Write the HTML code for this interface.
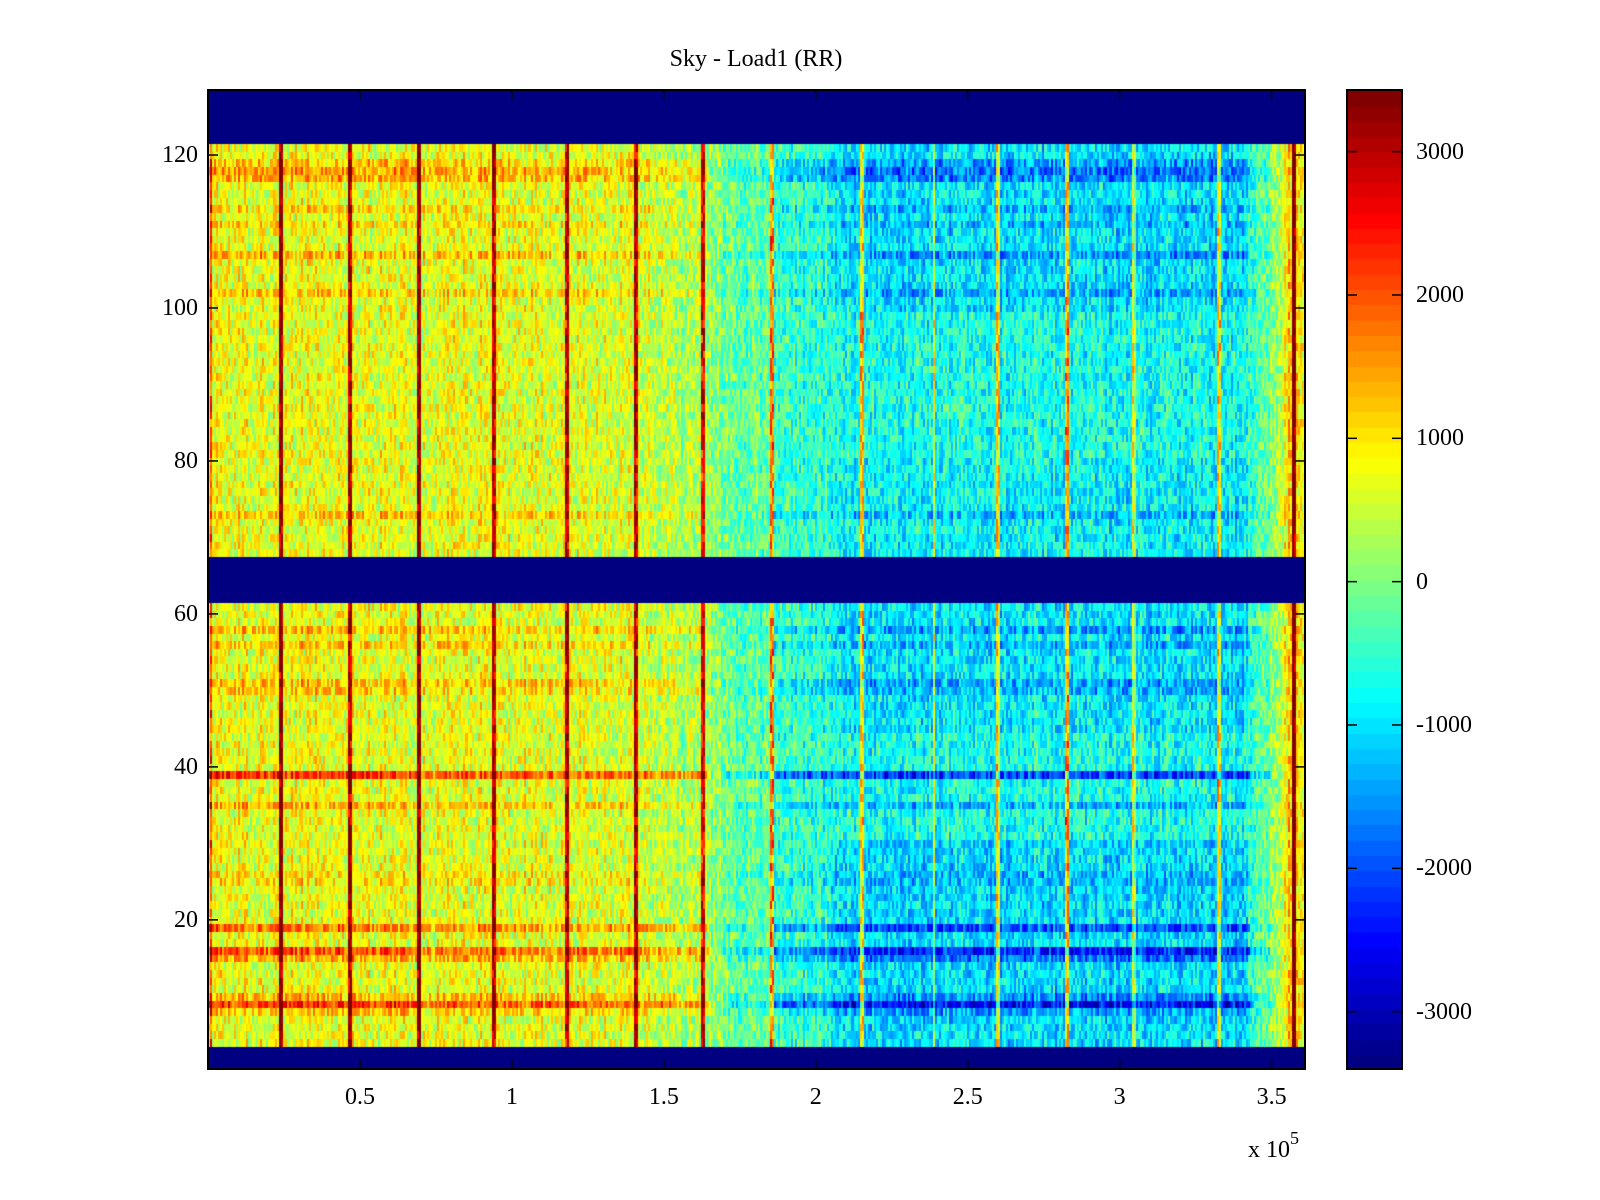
<!DOCTYPE html>
<html><head><meta charset="utf-8">
<style>
html,body{margin:0;padding:0;background:#fff;}
#root{position:relative;width:1600px;height:1200px;overflow:hidden;font-family:"Liberation Serif",serif;color:#000;}
.t{position:absolute;font-size:24px;line-height:1;white-space:nowrap;}
canvas{position:absolute;}
</style></head>
<body>
<div id="root">
<div class="t" style="left:0;width:1512px;top:47px;text-align:center;">Sky - Load1 (RR)</div>
<canvas id="hm" width="1097" height="979" style="left:208px;top:90px;"></canvas>
<canvas id="cb" width="55" height="979" style="left:1347px;top:90px;"></canvas>
<svg id="ov" width="1600" height="1200" style="position:absolute;left:0;top:0;"></svg>
<div class="t" style="left:1248px;top:1133px;">x 10<sup style="font-size:18px;position:relative;top:-4px;">5</sup></div>
</div>
<script>
// ---- data ----
const xMin = 0, xMax = 3.61, yMin = 0.5, yMax = 128.5;
const cMin = -3400, cMax = 3430;
const nCols = 540;
const blankRows = [1,2,3,62,63,64,65,66,67,122,123,124,125,126,127,128];
// base level along x (x in 1e5 units)
const baseX = [0, 1.40, 1.65, 1.85, 2.10, 3.40, 3.48, 3.54, 3.56, 3.59, 3.61];
const baseV = [750, 650, 150, -350, -650, -700, -250, 500, 1300, 900, 900];
// vertical hot stripes
const stripeX = [0.01, 0.243, 0.47, 0.693, 0.94, 1.185, 1.41, 1.63, 1.86, 2.15, 2.39, 2.60, 2.83, 3.05, 3.33, 3.575];
const stripeA = [1500, 2500, 2400, 2400, 2300, 2400, 2300, 2400, 2100, 1900, 1600, 1900, 2200, 1400, 1800, 2600];
// horizontal row effects (positive on left, negative on right)
const rowIdx = [8, 9, 10, 15, 16, 19, 35, 39, 73, 102, 107, 111, 113, 117, 118, 119, 56, 58, 51, 50, 26, 25];
const rowAmp = [450, 1500, 600, 700, 1300, 1000, 600, 1500, 450, 450, 600, 300, 350, 700, 800, 500, 400, 550, 500, 400, 250, 300];
// extra blueness on right in certain row ranges
const zoneRows = [[4, 30, -350], [100, 121, -300], [45, 61, -250], [68, 80, -150]];
const yTicks = [20, 40, 60, 80, 100, 120];
const xTicks = [0.5, 1, 1.5, 2, 2.5, 3, 3.5];
const xTickLabels = ["0.5", "1", "1.5", "2", "2.5", "3", "3.5"];
const cTicks = [3000, 2000, 1000, 0, -1000, -2000, -3000];

// ---- scales ----
const PL = 208, PT = 90, PW = 1097, PH = 979;
const xs = v => PL + (v - xMin) / (xMax - xMin) * PW;
const ys = v => PT + (yMax - v) / (yMax - yMin) * PH;
const cs = v => PT + (cMax - v) / (cMax - cMin) * PH;

function jet(t){
  t = Math.max(0, Math.min(1, t));
  t = Math.floor(t * 63.999) / 63;
  const f = x => Math.max(0, Math.min(1, x));
  const r = f(1.5 - Math.abs(4 * t - 3)), g = f(1.5 - Math.abs(4 * t - 2)), b = f(1.5 - Math.abs(4 * t - 1));
  return 'rgb(' + Math.round(r * 255) + ',' + Math.round(g * 255) + ',' + Math.round(b * 255) + ')';
}
function interp(x){
  for (let i = 1; i < baseX.length; i++) if (x <= baseX[i]) {
    const t = (x - baseX[i - 1]) / (baseX[i] - baseX[i - 1]);
    return baseV[i - 1] + t * (baseV[i] - baseV[i - 1]);
  }
  return baseV[baseV.length - 1];
}
function hash(a, b){ let h = (a * 374761393 + b * 668265263) | 0; h = (h ^ (h >>> 13)) * 1274126177 | 0; return ((h ^ (h >>> 16)) >>> 0) / 4294967296; }

const hm = document.getElementById('hm').getContext('2d');
const dx = (xMax - xMin) / nCols;
for (let r = 1; r <= 128; r++) {
  const y0 = ys(r + 0.5) - PT, y1 = ys(r - 0.5) - PT;
  const blank = blankRows.indexOf(r) >= 0;
  const ri = rowIdx.indexOf(r);
  let zone = 0;
  zoneRows.forEach(z => { if (r >= z[0] && r <= z[1]) zone = z[2]; });
  for (let c = 0; c < nCols; c++) {
    const x = xMin + (c + 0.5) * dx;
    let v;
    if (blank) v = cMin;
    else {
      v = interp(x);
      if (ri >= 0) {
        if (x < 1.65) v += rowAmp[ri] * (x < 0.7 ? 1 : 0.8);
        else if (x > 1.85 && x < 3.43) v -= rowAmp[ri] * 0.95;
        else if (x > 1.7 && x < 3.5) v -= rowAmp[ri] * 0.4;
      }
      if (x > 2.05 && x < 3.42) v += zone;
      v += (hash(r, c) - 0.5) * 1300 + (hash(c, 991) - 0.5) * 500;
      for (let s = 0; s < stripeX.length; s++) {
        const d = Math.abs(x - stripeX[s]);
        if (d < dx * 0.9) v += stripeA[s] * (hash(c, r + 7) * 0.4 + 0.8);
      }
    }
    hm.fillStyle = jet((v - cMin) / (cMax - cMin));
    const xa = xs(x - dx / 2) - PL, xb = xs(x + dx / 2) - PL;
    hm.fillRect(Math.floor(xa), Math.floor(y0), Math.ceil(xb) - Math.floor(xa), Math.ceil(y1) - Math.floor(y0));
  }
}
// colorbar
const cb = document.getElementById('cb').getContext('2d');
for (let i = 0; i < 64; i++) {
  const v0 = cMin + i * (cMax - cMin) / 64, v1 = cMin + (i + 1) * (cMax - cMin) / 64;
  cb.fillStyle = jet((i + 0.5) / 64);
  cb.fillRect(0, Math.floor(cs(v1) - PT), 55, Math.ceil(cs(v0) - cs(v1)) + 1);
}

// axes overlay
const NS = 'http://www.w3.org/2000/svg';
const ov = document.getElementById('ov');
const root = document.getElementById('root');
function line(x1, y1, x2, y2, name){
  const l = document.createElementNS(NS, 'line');
  l.setAttribute('x1', x1); l.setAttribute('y1', y1); l.setAttribute('x2', x2); l.setAttribute('y2', y2);
  l.setAttribute('stroke', '#000'); l.setAttribute('stroke-width', '1.5');
  
  
  ov.appendChild(l);
}
function rect(x, y, w, h, name){
  const e = document.createElementNS(NS, 'rect');
  e.setAttribute('x', x); e.setAttribute('y', y); e.setAttribute('width', w); e.setAttribute('height', h);
  e.setAttribute('fill', 'none'); e.setAttribute('stroke', '#000'); e.setAttribute('stroke-width', '2');
  
  
  ov.appendChild(e);
}
function label(txt, left, top, align, name){
  const d = document.createElement('div');
  d.className = 't';
  d.textContent = txt;
  d.style.top = top + 'px';
  if (align === 'right') { d.style.left = (left - 100) + 'px'; d.style.width = '100px'; d.style.textAlign = 'right'; }
  else if (align === 'center') { d.style.left = (left - 50) + 'px'; d.style.width = '100px'; d.style.textAlign = 'center'; }
  else d.style.left = left + 'px';
  
  
  root.appendChild(d);
}
rect(PL, PT, PW, PH, 'plot-frame');
rect(1347, PT, 55, PH, 'colorbar-frame');
yTicks.forEach(t => {
  const y = ys(t);
  line(PL, y, PL + 10, y, 'y-tick');
  line(PL + PW, y, PL + PW - 10, y, 'y-tick-right');
  label(String(t), 198, y - 12, 'right', 'y-tick-label');
});
xTicks.forEach((t, i) => {
  const x = xs(t);
  line(x, PT + PH, x, PT + PH - 10, 'x-tick');
  line(x, PT, x, PT + 10, 'x-tick-top');
  label(xTickLabels[i], x, 1085, 'center', 'x-tick-label');
});
cTicks.forEach(t => {
  const y = cs(t);
  line(1347, y, 1357, y, 'colorbar-tick');
  line(1402, y, 1392, y, 'colorbar-tick-right');
  label(String(t), 1416, y - 12, 'left', 'colorbar-tick-label');
});
</script>
</body></html>
